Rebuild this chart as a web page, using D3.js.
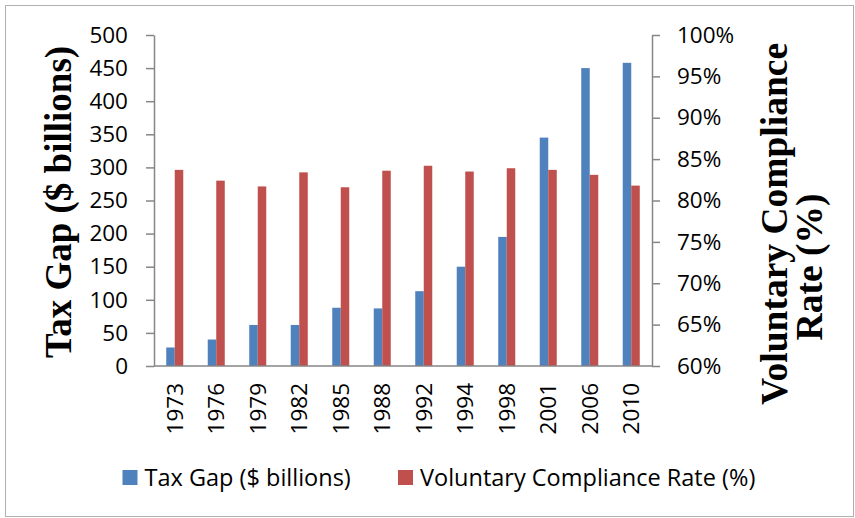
<!DOCTYPE html>
<html>
<head>
<meta charset="utf-8">
<script src="https://cdn.jsdelivr.net/npm/d3@7"></script>
<style>
  html, body { margin: 0; padding: 0; background: #fff; }
  svg { display: block; }
</style>
</head>
<body>
<svg id="chart" width="855" height="518"></svg>
<script>
// data
const years = ['1973', '1976', '1979', '1982', '1985', '1988', '1992', '1994', '1998', '2001', '2006', '2010'];
const taxGap = [28, 40, 62, 62, 88, 87, 113, 150, 195, 345, 450, 458];
const complianceRate = [0.837, 0.824, 0.817, 0.834, 0.816, 0.836, 0.842, 0.835, 0.839, 0.837, 0.831, 0.818];
const leftTicks = [0, 50, 100, 150, 200, 250, 300, 350, 400, 450, 500];
const rightTicks = [0.60, 0.65, 0.70, 0.75, 0.80, 0.85, 0.90, 0.95, 1.00];
const seriesNames = ['Tax Gap ($ billions)', 'Voluntary Compliance Rate (%)'];

const blue = '#4F81BD';
const red = '#C0504D';
const axisColor = '#868686';
const labelFont = '"Open Sans", Lato, sans-serif';
const titleFont = '"Liberation Serif", "Times New Roman", serif';

const svg = d3.select('#chart');

// chart area border
svg.append('rect')
    .attr('x', 5.5).attr('y', 5.5)
    .attr('width', 848).attr('height', 511)
    .attr('fill', '#fff')
    .attr('stroke', '#b0b0b0')
    .attr('stroke-width', 1);

const plot = { left: 154, right: 652, top: 35, bottom: 366 };

// scales
const pad = 0.59;
const x = d3.scaleBand()
    .domain(years)
    .range([plot.left, plot.right])
    .paddingInner(pad)
    .paddingOuter(pad / 2);
const xSeries = d3.scaleBand().domain([0, 1]).range([0, x.bandwidth()]);
const yLeft = d3.scaleLinear().domain([0, 500]).range([plot.bottom, plot.top]);
const yRight = d3.scaleLinear().domain([0.6, 1.0]).range([plot.bottom, plot.top]);

// bars
const g = svg.append('g');
g.selectAll('rect.gap')
    .data(years)
    .join('rect')
    .attr('class', 'gap')
    .attr('x', (d) => x(d) + xSeries(0))
    .attr('width', xSeries.bandwidth())
    .attr('y', (d, i) => yLeft(taxGap[i]))
    .attr('height', (d, i) => yLeft(0) - yLeft(taxGap[i]))
    .attr('fill', blue);

g.selectAll('rect.vcr')
    .data(years)
    .join('rect')
    .attr('class', 'vcr')
    .attr('x', (d) => x(d) + xSeries(1))
    .attr('width', xSeries.bandwidth())
    .attr('y', (d, i) => yRight(complianceRate[i]))
    .attr('height', (d, i) => yRight(0.6) - yRight(complianceRate[i]))
    .attr('fill', red);

// axes
function styleAxis(sel) {
    sel.select('.domain').attr('stroke', axisColor).attr('stroke-width', 1.5);
    sel.selectAll('.tick line').attr('stroke', axisColor).attr('stroke-width', 1.5);
    sel.selectAll('.tick text')
        .attr('fill', '#000')
        .style('font-family', labelFont)
        .style('font-size', '22.5px');
}

svg.append('g')
    .attr('transform', `translate(${plot.left},0)`)
    .call(d3.axisLeft(yLeft).tickValues(leftTicks).tickSize(8).tickSizeOuter(0).tickPadding(18))
    .call(styleAxis);

svg.append('g')
    .attr('transform', `translate(${plot.right},0)`)
    .call(d3.axisRight(yRight).tickValues(rightTicks).tickSize(8).tickSizeOuter(0).tickPadding(17)
        .tickFormat(d3.format('.0%')))
    .call(styleAxis);

const xAxis = svg.append('g')
    .attr('transform', `translate(0,${plot.bottom})`)
    .call(d3.axisBottom(x).tickSize(0).tickSizeOuter(0).tickPadding(0))
    .call(styleAxis);
xAxis.select('.domain').attr('d', `M${plot.left},0H${plot.right}`);
xAxis.selectAll('.tick text')
    .attr('transform', 'rotate(-90)')
    .attr('text-anchor', 'end')
    .attr('x', -17)
    .attr('y', 0)
    .attr('dy', '0.35em');

// axis titles
svg.append('text')
    .attr('transform', 'translate(71,202) rotate(-90)')
    .attr('text-anchor', 'middle')
    .style('font-family', titleFont)
    .style('font-weight', 'bold')
    .style('font-size', '37px')
    .text('Tax Gap ($ billions)');

svg.append('text')
    .attr('transform', 'translate(787,224) rotate(-90)')
    .attr('text-anchor', 'middle')
    .style('font-family', titleFont)
    .style('font-weight', 'bold')
    .style('font-size', '37.5px')
    .text('Voluntary Compliance');

svg.append('text')
    .attr('transform', 'translate(822,267) rotate(-90)')
    .attr('text-anchor', 'middle')
    .style('font-family', titleFont)
    .style('font-weight', 'bold')
    .style('font-size', '37.5px')
    .text('Rate (%)');

// legend
const legendPos = [122.5, 398];
const legend = svg.append('g');
seriesNames.forEach((name, i) => {
    legend.append('rect')
        .attr('x', legendPos[i]).attr('y', 470)
        .attr('width', 15).attr('height', 15)
        .attr('fill', i === 0 ? blue : red);
    legend.append('text')
        .attr('x', legendPos[i] + 22)
        .attr('y', 478)
        .attr('dy', '0.35em')
        .style('font-family', labelFont)
        .style('font-size', '23.5px')
        .text(name);
});
</script>
</body>
</html>
